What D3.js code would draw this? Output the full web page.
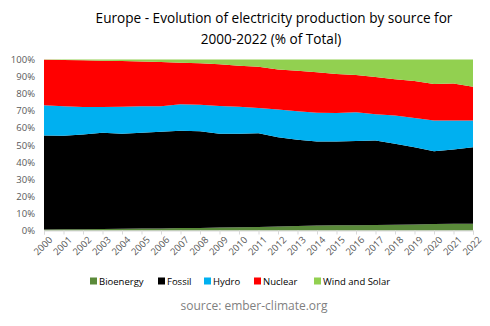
<!DOCTYPE html>
<html>
<head>
<meta charset="utf-8">
<script src="https://cdn.jsdelivr.net/npm/d3@7"></script>
<style>
  body { margin: 0; background: #fff; }
  svg { display: block; font-family: 'Open Sans', sans-serif; }
</style>
</head>
<body>
<div id="chart"></div>
<script>
const years = d3.range(2000, 2023)
const seriesNames = ['Bioenergy', 'Fossil', 'Hydro', 'Nuclear', 'Wind and Solar']
const colors = ['#5a8a3a', '#000000', '#00b0f0', '#ff0000', '#92d050']

// % of total
const bioenergy = [0.6, 0.7, 0.8, 0.9, 1.0, 1.1, 1.2, 1.4, 1.5, 1.7, 1.9, 2.0, 2.4, 2.7, 2.9, 3.0, 3.1, 3.2, 3.4, 3.5, 3.8, 3.9, 4.0]
const fossil = [55.0, 54.7, 55.4, 56.3, 55.6, 56.1, 56.6, 57.0, 56.6, 54.9, 54.7, 54.9, 52.2, 50.4, 49.2, 49.1, 49.2, 49.4, 47.3, 45.2, 42.6, 43.5, 44.7]
const hydro = [17.6, 17.2, 16.0, 15.0, 15.7, 15.5, 14.9, 15.4, 15.5, 16.2, 15.8, 14.7, 16.1, 16.6, 16.7, 16.6, 16.8, 15.4, 16.5, 17.1, 18.0, 17.0, 15.7]
const nuclear = [26.6, 27.1, 27.3, 27.1, 26.8, 26.1, 25.8, 24.3, 24.2, 24.4, 24.0, 24.2, 23.5, 23.7, 23.7, 22.8, 21.8, 21.7, 21.3, 21.7, 21.2, 21.6, 19.6]
const windSolar = [0.2, 0.3, 0.5, 0.7, 0.9, 1.2, 1.5, 1.9, 2.2, 2.8, 3.6, 4.2, 5.8, 6.6, 7.5, 8.5, 9.1, 10.3, 11.5, 12.5, 14.4, 14.0, 16.0]
const yTicks = [0, 10, 20, 30, 40, 50, 60, 70, 80, 90, 100]

const table = years.map((y, i) => ({
  year: y,
  'Bioenergy': bioenergy[i],
  'Fossil': fossil[i],
  'Hydro': hydro[i],
  'Nuclear': nuclear[i],
  'Wind and Solar': windSolar[i]
}))

const width = 490
const height = 326
const margin = { top: 60, right: 17, bottom: 96, left: 44 }

const svg = d3.select('#chart')
  .append('svg')
  .attr('width', width)
  .attr('height', height)

// title
svg.append('text')
  .attr('x', 274).attr('y', 23)
  .attr('text-anchor', 'middle')
  .style('font-size', '13.6px')
  .style('fill', '#000')
  .text('Europe - Evolution of electricity production  by source for')
svg.append('text')
  .attr('x', 271).attr('y', 44)
  .attr('text-anchor', 'middle')
  .style('font-size', '13.6px')
  .style('fill', '#000')
  .text('2000-2022 (% of Total)')

const x = d3.scaleLinear()
  .domain([2000, 2022])
  .range([margin.left, width - margin.right])

const y = d3.scaleLinear()
  .domain([0, 100])
  .range([height - margin.bottom + 0.5, margin.top - 0.5])

const stack = d3.stack().keys(seriesNames)
const layers = stack(table)

const area = d3.area()
  .x(d => x(d.data.year))
  .y0(d => y(d[0]))
  .y1(d => y(d[1]))

svg.append('g')
  .selectAll('path')
  .data(layers)
  .enter()
  .append('path')
  .attr('d', area)
  .style('fill', (d, i) => colors[i])

// y axis labels
svg.append('g')
  .selectAll('text')
  .data(yTicks)
  .enter()
  .append('text')
  .attr('x', 35)
  .attr('y', d => y(d) + 3.5)
  .attr('text-anchor', 'end')
  .style('font-size', '9.5px')
  .style('fill', '#595959')
  .text(d => d + '%')

// x axis
const xAxis = svg.append('g')
  .attr('transform', `translate(0, ${y(0)})`)
  .call(d3.axisBottom(x).tickValues(years).tickSize(4).tickFormat(d3.format('d')))
xAxis.select('.domain').attr('stroke', '#d9d9d9')
xAxis.selectAll('.tick line').attr('stroke', '#d9d9d9')
xAxis.selectAll('.tick text')
  .attr('transform', 'rotate(-45)')
  .attr('text-anchor', 'end')
  .attr('dx', '-0.1em')
  .attr('dy', '0.65em')
  .style('font-family', "'Open Sans', sans-serif")
  .style('font-size', '9.5px')
  .style('fill', '#595959')

// legend
const legendX = [90, 158, 204, 254, 314]
const legend = svg.append('g')
  .selectAll('g')
  .data(seriesNames)
  .enter()
  .append('g')
  .attr('transform', (d, i) => `translate(${legendX[i]}, 281)`)
legend.append('rect')
  .attr('x', 0).attr('y', -3.5)
  .attr('width', 7).attr('height', 7)
  .style('fill', (d, i) => colors[i])
legend.append('text')
  .attr('x', 9).attr('y', 3.5)
  .style('font-size', '9.5px')
  .style('fill', '#000')
  .text(d => d)

svg.append('text')
  .attr('x', 254).attr('y', 310)
  .attr('text-anchor', 'middle')
  .style('font-size', '12px')
  .style('fill', '#7f7f7f')
  .text('source: ember-climate.org')
</script>
</body>
</html>
